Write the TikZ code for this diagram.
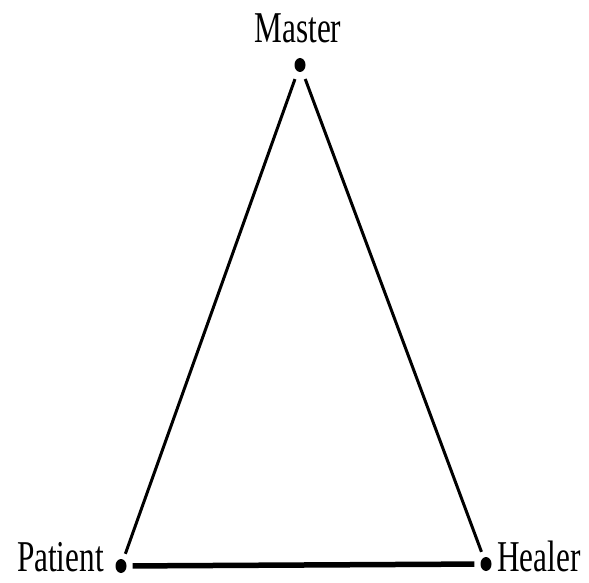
\documentclass[tikz,border=0pt]{standalone}
\usepackage{fontspec}
\setmainfont{Liberation Serif}
\usetikzlibrary{shapes.geometric}
\tikzset{
  dot/.style={ellipse, fill=black, inner sep=0pt, minimum width=11pt, minimum height=14pt},
  lbl/.style={inner sep=0pt, font=\fontsize{44}{50}\selectfont},
  side/.style={line width=3pt, shorten <=8pt, shorten >=6pt},
  base/.style={line width=5.5pt, shorten <=6pt, shorten >=6pt}
}
\newcommand{\narrow}[1]{\scalebox{0.71}[1]{#1}}
\begin{document}
\begin{tikzpicture}[x=1pt,y=1pt]
\useasboundingbox (0,0) rectangle (589,582);
\node[dot] (M) at (300,517) {};
\node[dot] (P) at (121,16) {};
\node[dot] (H) at (486,18) {};
\node[lbl, anchor=base] (ML) at (298,539) {\narrow{Master}};
\node[lbl, anchor=base east] (PL) at (104,11) {\narrow{Patient}};
\node[lbl, anchor=base west] (HL) at (497,11) {\narrow{Healer}};
\draw[side] (M) -- (P);
\draw[side] (M) -- (H);
\draw[base] (P) -- (H);
\end{tikzpicture}
\end{document}
